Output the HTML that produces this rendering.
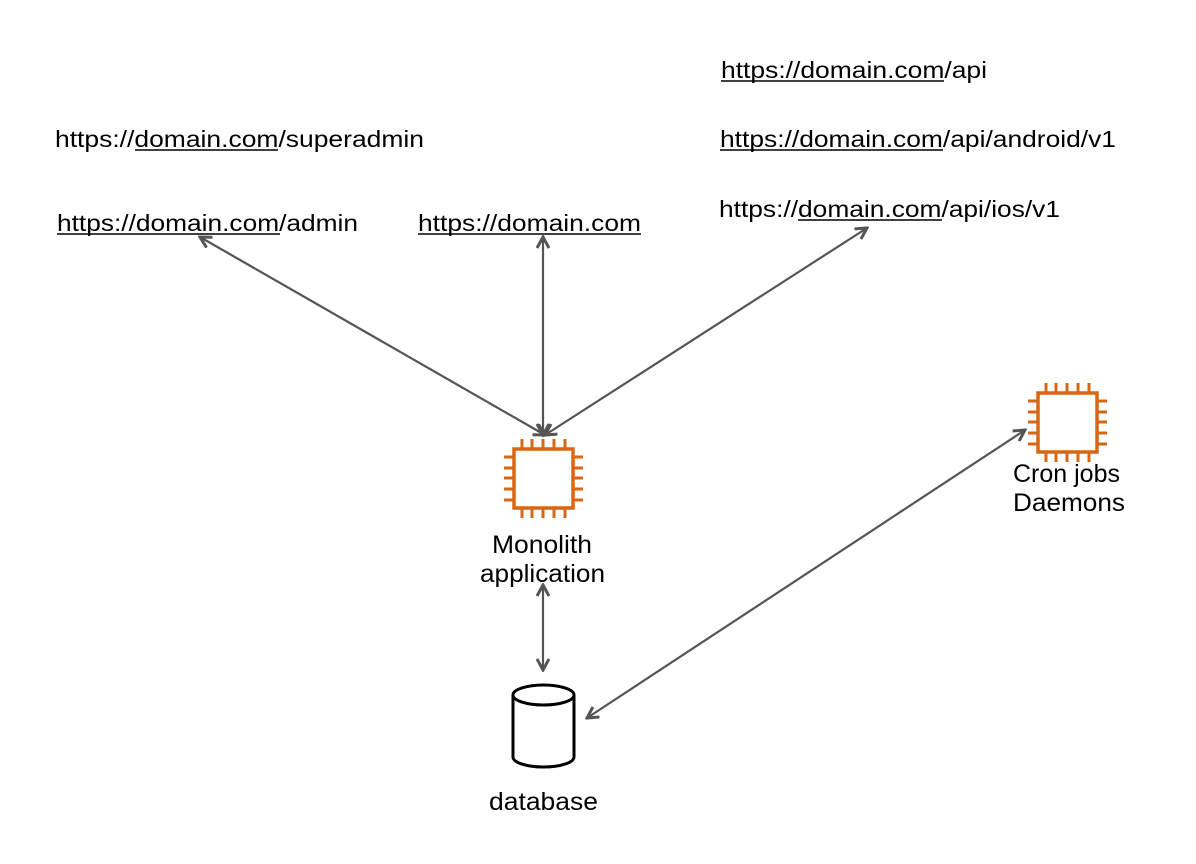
<!DOCTYPE html>
<html><head><meta charset="utf-8"><style>
html,body{margin:0;padding:0;background:#fff;}
svg{display:block;}
text{font-family:"Liberation Sans",Arial,sans-serif;font-size:23px;fill:#000;}
.n{font-size:25px;}
</style></head><body>
<svg width="1196" height="864" viewBox="0 0 1196 864" xmlns="http://www.w3.org/2000/svg">
<defs>
<marker id="a" viewBox="0 0 14 14" refX="12" refY="7" markerWidth="14" markerHeight="14" markerUnits="userSpaceOnUse" orient="auto-start-reverse">
<path d="M1,1 L12,7 L1,13" fill="none" stroke="#555" stroke-width="3"/>
</marker>
<g id="chip">
<rect x="0" y="0" width="59" height="59" fill="#fff" stroke="#d86613" stroke-width="3.5"/>
<g stroke="#d86613" stroke-width="3">
<path d="M8,0V-10M18,0V-10M29,0V-10M40,0V-10M51,0V-10"/>
<path d="M8,59V69M18,59V69M29,59V69M40,59V69M51,59V69"/>
<path d="M0,8H-10M0,19H-10M0,29H-10M0,40H-10M0,51H-10"/>
<path d="M59,8H69M59,19H69M59,29H69M59,40H69M59,51H69"/>
</g>
</g>
</defs>

<g stroke="#555" stroke-width="2.2" fill="none">
<line x1="200" y1="237" x2="545" y2="435" marker-start="url(#a)" marker-end="url(#a)"/>
<line x1="543" y1="237" x2="543" y2="435" marker-start="url(#a)" marker-end="url(#a)"/>
<line x1="867" y1="228" x2="545" y2="435" marker-start="url(#a)" marker-end="url(#a)"/>
<line x1="543" y1="585" x2="543" y2="670" marker-start="url(#a)" marker-end="url(#a)"/>
<line x1="1025" y1="430" x2="587" y2="718" marker-start="url(#a)" marker-end="url(#a)"/>
</g>

<use href="#chip" x="514" y="449"/>
<use href="#chip" x="1038" y="393"/>

<g fill="#fff" stroke="#000" stroke-width="3">
<path d="M513,695 V757 A30.5,10 0 0 0 574,757 V695"/>
<ellipse cx="543.5" cy="695" rx="30.5" ry="10"/>
</g>

<text x="721" y="78" textLength="266" lengthAdjust="spacingAndGlyphs">https://domain.com/api</text>
<text x="720" y="147" textLength="396" lengthAdjust="spacingAndGlyphs">https://domain.com/api/android/v1</text>
<text x="719" y="217" textLength="341" lengthAdjust="spacingAndGlyphs">https://domain.com/api/ios/v1</text>
<text x="55" y="147" textLength="369" lengthAdjust="spacingAndGlyphs">https://domain.com/superadmin</text>
<text x="57" y="231" textLength="301" lengthAdjust="spacingAndGlyphs">https://domain.com/admin</text>
<text x="418" y="231" textLength="223" lengthAdjust="spacingAndGlyphs">https://domain.com</text>
<text class="n" x="492" y="553" textLength="100" lengthAdjust="spacingAndGlyphs">Monolith</text>
<text class="n" x="480" y="582" textLength="125" lengthAdjust="spacingAndGlyphs">application</text>
<text class="n" x="1013" y="482">Cron jobs</text>
<text class="n" x="1013" y="511" textLength="112" lengthAdjust="spacingAndGlyphs">Daemons</text>
<text class="n" x="489" y="810" textLength="109" lengthAdjust="spacingAndGlyphs">database</text>

<g stroke="#000" stroke-width="1.6">
<line x1="721" y1="81" x2="944" y2="81"/>
<line x1="720" y1="150" x2="943" y2="150"/>
<line x1="798" y1="220" x2="942" y2="220"/>
<line x1="135" y1="150" x2="278" y2="150"/>
<line x1="57" y1="234" x2="280" y2="234"/>
<line x1="418" y1="234" x2="641" y2="234"/>
</g>
</svg>
</body></html>
